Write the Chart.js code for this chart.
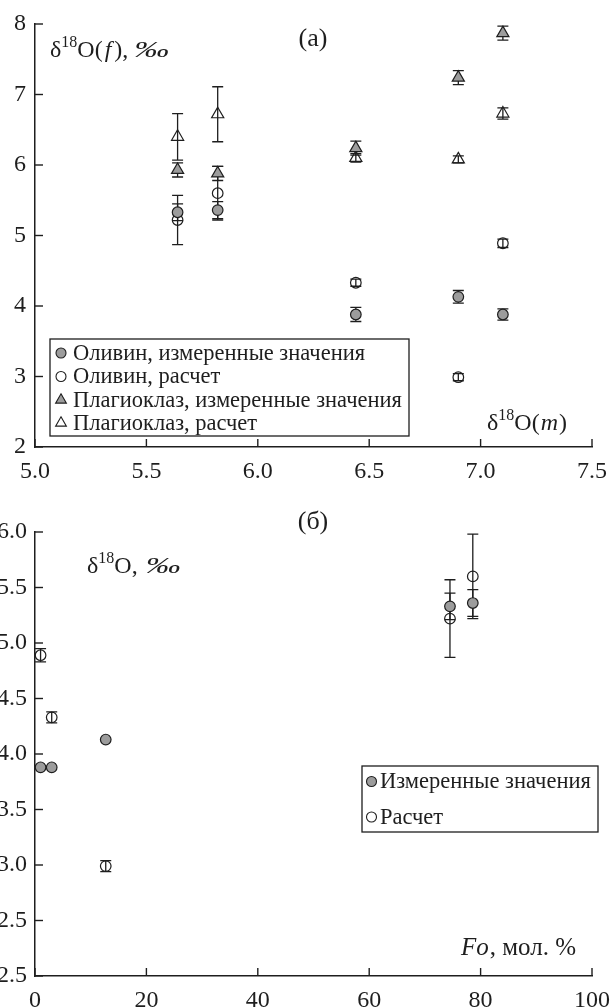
<!DOCTYPE html>
<html>
<head>
<meta charset="utf-8">
<script src="https://cdn.jsdelivr.net/npm/chart.js@4.4.1/dist/chart.umd.min.js"></script>
<style>
  html, body { margin:0; padding:0; background:#fff; }
  body { width:610px; height:1008px; overflow:hidden; position:relative; }
  canvas { position:absolute; left:0; }
  #c1 { top:0; }
  #c2 { top:490px; }
</style>
</head>
<body>
<canvas id="c1" width="630" height="500"></canvas>
<canvas id="c2" width="630" height="540"></canvas>
<script>
// ---------- data ----------
// panel (a): x = δ18O(m)
const xM        = [5.64, 5.82, 6.44, 6.90, 7.10];
const olMeas    = [5.33, 5.36, 3.88, 4.13, 3.88];
const olMeasErr = [0.12, 0.12, 0.10, 0.09, 0.08];
const olCalc    = [5.22, 5.60, 4.33, 2.99, 4.89];
const olCalcErr = [0.35, 0.38, 0.05, 0.05, 0.06];
const plMeas    = [5.93, 5.88, 6.24, 7.24, 7.87];
const plMeasErr = [0.10, 0.10, 0.10, 0.10, 0.10];
const plCalc    = [6.40, 6.72, 6.10, 6.08, 6.73];
const plCalcErr = [0.33, 0.39, 0.06, 0.05, 0.08];
// panel (б): x = Fo, mol.%
const fo          = [74.5, 78.6, 3.0, 12.7, 1.0];
const foMeasErr   = [0.12, 0.12, 0, 0, 0];
const legendA = ['Оливин, измеренные значения', 'Оливин, расчет',
                 'Плагиоклаз, измеренные значения', 'Плагиоклаз, расчет'];
const legendB = ['Измеренные значения', 'Расчет'];
// y tick labels of panel (б) as printed (bottom one reads "2.5" in the source)
const yTickValsB = [2.0, 2.5, 3.0, 3.5, 4.0, 4.5, 5.0, 5.5, 6.0];
const yTickLabsB = ['2.5', '2.5', '3.0', '3.5', '4.0', '4.5', '5.0', '5.5', '6.0'];

// ---------- styles ----------
const SERIF = '"Liberation Serif", "Times New Roman", serif';
const INK = '#1e1e1e';
const GRAY = '#9c9c9c';
const TICKFONT = { family: SERIF, size: 24 };

function pts(xs, ys) { return xs.map((x, i) => ({ x: x, y: ys[i] })); }

function ds(label, data, err, style, filled) {
  return {
    label: label, data: data, err: err,
    pointStyle: style,
    pointRadius: style === 'triangle' ? 7 : 5.3,
    pointHoverRadius: style === 'triangle' ? 7 : 5.3,
    backgroundColor: filled ? GRAY : 'rgba(255,255,255,0)',
    borderColor: INK, borderWidth: 1.2, showLine: false
  };
}

// error bars (drawn beneath the markers, through the library scales)
const errorBars = {
  id: 'errorBars',
  beforeDatasetsDraw(chart) {
    const { ctx, scales: { x, y } } = chart;
    ctx.save();
    ctx.strokeStyle = INK; ctx.lineWidth = 1.3;
    chart.data.datasets.forEach(d => {
      if (!d.err) return;
      d.data.forEach((p, i) => {
        const e = d.err[i];
        if (!e) return;
        const px = x.getPixelForValue(p.x);
        const y1 = y.getPixelForValue(p.y + e);
        const y2 = y.getPixelForValue(p.y - e);
        ctx.beginPath();
        ctx.moveTo(px, y1); ctx.lineTo(px, y2);
        ctx.moveTo(px - 5.5, y1); ctx.lineTo(px + 5.5, y1);
        ctx.moveTo(px - 5.5, y2); ctx.lineTo(px + 5.5, y2);
        ctx.stroke();
      });
    });
    ctx.restore();
  }
};

// tick marks pointing into the plot area
const inwardTicks = {
  id: 'inwardTicks',
  afterDraw(chart) {
    const { ctx, chartArea: a, scales: { x, y } } = chart;
    ctx.save();
    ctx.strokeStyle = INK; ctx.lineWidth = 1.4;
    x.ticks.forEach(t => {
      const px = x.getPixelForValue(t.value);
      ctx.beginPath(); ctx.moveTo(px, a.bottom); ctx.lineTo(px, a.bottom - 8); ctx.stroke();
    });
    y.ticks.forEach(t => {
      const py = y.getPixelForValue(t.value);
      ctx.beginPath(); ctx.moveTo(a.left, py); ctx.lineTo(a.left + 8, py); ctx.stroke();
    });
    ctx.restore();
  }
};

// rich text helper (superscripts, italics, slight horizontal stretch)
function drawRich(ctx, x, y, parts) {
  ctx.save();
  ctx.fillStyle = INK; ctx.textBaseline = 'alphabetic'; ctx.textAlign = 'left';
  parts.forEach(p => {
    x += p.g || 0;
    const sx = p.sx || 1;
    ctx.font = (p.i ? 'italic ' : '') + p.s + 'px ' + SERIF;
    ctx.save();
    ctx.translate(x, y + (p.dy || 0));
    ctx.scale(sx, 1);
    ctx.fillText(p.t, 0, 0);
    ctx.restore();
    x += ctx.measureText(p.t).width * sx;
  });
  ctx.restore();
}

// in-plot legend box
function makeLegend(id, box, rows, markerX, textX, fontSize) {
  return {
    id: id,
    afterDraw(chart) {
      const ctx = chart.ctx;
      ctx.save();
      ctx.fillStyle = '#fff';
      ctx.fillRect(box[0], box[1], box[2] - box[0], box[3] - box[1]);
      ctx.strokeStyle = INK; ctx.lineWidth = 1.3;
      ctx.strokeRect(box[0], box[1], box[2] - box[0], box[3] - box[1]);
      chart.data.datasets.forEach((d, i) => {
        const yy = rows[i];
        ctx.fillStyle = d.backgroundColor; ctx.strokeStyle = INK; ctx.lineWidth = 1.1;
        Chart.helpers.drawPoint(ctx, {
          pointStyle: d.pointStyle, rotation: 0,
          radius: d.pointStyle === 'triangle' ? 6.2 : 5, borderWidth: 1.1
        }, markerX, yy);
        ctx.fillStyle = INK;
        ctx.font = fontSize + 'px ' + SERIF;
        ctx.textBaseline = 'middle'; ctx.textAlign = 'left';
        ctx.fillText(d.label, textX, yy + 1);
      });
      ctx.restore();
    }
  };
}

const textsA = {
  id: 'textsA',
  afterDraw(chart) {
    const ctx = chart.ctx;
    drawRich(ctx, 50, 57, [
      { t: 'δ', s: 24 }, { t: '18', s: 16, dy: -10 }, { t: 'O(', s: 24 },
      { t: 'f', s: 24, i: true, g: 2 }, { t: '), ', s: 24, g: 3 },
      { t: '‰', s: 24, i: true, sx: 1.45 }
    ]);
    ctx.save(); ctx.fillStyle = INK; ctx.font = '26px ' + SERIF;
    ctx.textAlign = 'center'; ctx.textBaseline = 'middle';
    ctx.fillText('(a)', 313, 39); ctx.restore();
    drawRich(ctx, 487, 430, [
      { t: 'δ', s: 24 }, { t: '18', s: 16, dy: -10 }, { t: 'O(', s: 24 },
      { t: 'm', s: 24, i: true, g: 1 }, { t: ')', s: 24, g: 1 }
    ]);
  }
};

const textsB = {
  id: 'textsB',
  afterDraw(chart) {
    const ctx = chart.ctx;
    ctx.save(); ctx.fillStyle = INK; ctx.font = '26px ' + SERIF;
    ctx.textAlign = 'center'; ctx.textBaseline = 'middle';
    ctx.fillText('(б)', 313, 32); ctx.restore();
    drawRich(ctx, 87, 83, [
      { t: 'δ', s: 24 }, { t: '18', s: 16, dy: -10 }, { t: 'O, ', s: 24 },
      { t: '‰', s: 24, i: true, sx: 1.45, g: 2 }
    ]);
    drawRich(ctx, 461, 465, [
      { t: 'Fo', s: 25, i: true }, { t: ', мол. %', s: 25, g: 1 }
    ]);
  }
};

function axisCommon() {
  return {
    type: 'linear',
    grid: { display: true, drawOnChartArea: false, drawTicks: false },
    border: { display: true, color: INK, width: 1.5 }
  };
}

// ---------- chart (a) ----------
new Chart(document.getElementById('c1'), {
  type: 'scatter',
  data: {
    datasets: [
      ds(legendA[0], pts(xM, olMeas), olMeasErr, 'circle', true),
      ds(legendA[1], pts(xM, olCalc), olCalcErr, 'circle', false),
      ds(legendA[2], pts(xM, plMeas), plMeasErr, 'triangle', true),
      ds(legendA[3], pts(xM, plCalc), plCalcErr, 'triangle', false)
    ]
  },
  options: {
    responsive: false, animation: false, devicePixelRatio: 1,
    layout: { padding: { left: 0, right: 38, top: 24, bottom: 0 } },
    plugins: { legend: { display: false }, tooltip: { enabled: false } },
    scales: {
      x: Object.assign(axisCommon(), {
        min: 5, max: 7.5,
        ticks: { stepSize: 0.5, font: TICKFONT, color: INK, padding: 10, maxRotation: 0,
                 callback: v => Number(v).toFixed(1) },
        afterFit: s => { s.height = 53; }
      }),
      y: Object.assign(axisCommon(), {
        min: 2, max: 8,
        ticks: { stepSize: 1, font: TICKFONT, color: INK, padding: 9 },
        afterFit: s => { s.width = 35; }
      })
    }
  },
  plugins: [errorBars, inwardTicks,
            makeLegend('legA', [50, 339, 409, 436], [353, 376.5, 400, 423], 61, 73, 22.5),
            textsA]
});

// ---------- chart (б) ----------
new Chart(document.getElementById('c2'), {
  type: 'scatter',
  data: {
    datasets: [
      ds(legendB[0], pts(fo, olMeas), foMeasErr, 'circle', true),
      ds(legendB[1], pts(fo, olCalc), olCalcErr, 'circle', false)
    ]
  },
  options: {
    responsive: false, animation: false, devicePixelRatio: 1,
    layout: { padding: { left: 0, right: 38, top: 42, bottom: 0 } },
    plugins: { legend: { display: false }, tooltip: { enabled: false } },
    scales: {
      x: Object.assign(axisCommon(), {
        min: 0, max: 100,
        ticks: { stepSize: 20, font: TICKFONT, color: INK, padding: 10, maxRotation: 0 },
        afterFit: s => { s.height = 54; }
      }),
      y: Object.assign(axisCommon(), {
        min: 2, max: 6,
        ticks: { stepSize: 0.5, font: TICKFONT, color: INK, padding: 8,
                 callback: v => { const k = yTickValsB.findIndex(t => Math.abs(t - v) < 1e-6);
                                  return k >= 0 ? yTickLabsB[k] : ''; } },
        afterFit: s => { s.width = 35; }
      })
    }
  },
  plugins: [errorBars, inwardTicks,
            makeLegend('legB', [362, 276, 598, 342], [291.5, 327], 371.5, 380, 22.5),
            textsB]
});
</script>
</body>
</html>
